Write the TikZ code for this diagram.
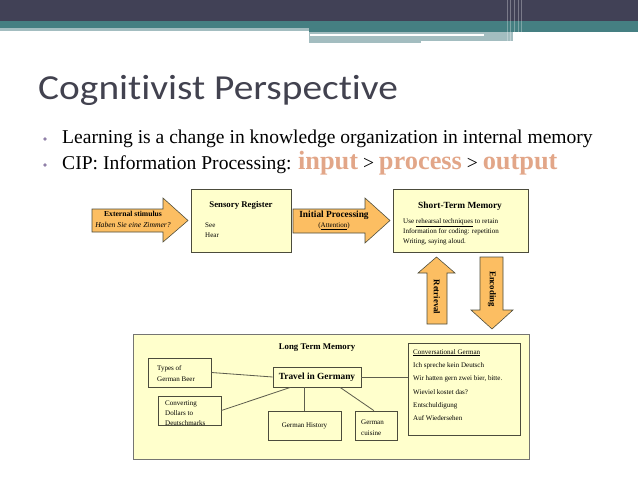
\documentclass[tikz,border=0pt]{standalone}
\usepackage{fontspec}
\setmainfont{Liberation Serif}
\newfontfamily\titlefont[FakeStretch=1.12, Ligatures=NoCommon]{Carlito}
\usetikzlibrary{fit,calc}

\definecolor{hdrdark}{HTML}{414156}
\definecolor{hdrteal}{HTML}{457F82}
\definecolor{hdrlight}{HTML}{A3BDC0}
\definecolor{titlegray}{HTML}{42424F}
\definecolor{bulletpurple}{HTML}{9080A8}
\definecolor{salmon}{HTML}{E2A688}
\definecolor{boxfill}{HTML}{FFFFCC}
\definecolor{boxline}{HTML}{4C4C3C}
\definecolor{arrowfill}{HTML}{FCBE62}
\definecolor{linkgray}{HTML}{5E5E4E}

\begin{document}
\begin{tikzpicture}[x=0.03cm, y=-0.03cm,
  box/.style={draw=boxline, fill=boxfill, line width=0.7pt, inner sep=0pt},
  blockarrow/.style={draw=boxline, fill=arrowfill, line width=0.5pt},
  hd/.style={font=\fontsize{7.5}{9}\selectfont\bfseries, inner sep=0pt},
  txt/.style={font=\fontsize{6}{7}\selectfont, inner sep=0pt, anchor=base west},
  link/.style={draw=linkgray, line width=0.7pt}]
  \useasboundingbox (0,0) rectangle (638,479);

  % Header bands
  \fill[hdrdark] (0,0) rectangle (638,21);
  \fill[hdrteal] (0,21) rectangle (309,28.5);
  \fill[hdrteal] (309,21) rectangle (638,32);
  \fill[hdrlight] (0,28.5) rectangle (309,31);
  \fill[hdrlight] (309,32) rectangle (421,43);
  \fill[hdrlight] (421,32) rectangle (513,41);
  \fill[white] (310,34) rectangle (484,36);
  \foreach \x in {507,510,514,518,521}
    \fill[white, opacity=0.3] (\x,0) rectangle (\x+1.2,43);

  % Title and bullets
  \node[anchor=base west, inner sep=0pt, text=titlegray,
        font=\titlefont\fontsize{30}{31}\selectfont] (title) at (38,100) {Cognitivist Perspective};
  \fill[bulletpurple] (45,139) circle (1.8);
  \fill[bulletpurple] (45,165) circle (1.8);
  \node[anchor=base west, inner sep=0pt, font=\fontsize{16.7}{18}\selectfont] (line1) at (62,143)
    {Learning is a change in knowledge organization in internal memory};
  \node[anchor=base west, inner sep=0pt, font=\fontsize{16.7}{18}\selectfont] (line2) at (62,169)
    {CIP: Information Processing: \textcolor{salmon}{\fontsize{22.5}{24}\selectfont\bfseries input}
     > \textcolor{salmon}{\fontsize{22.5}{24}\selectfont\bfseries process}
     > \textcolor{salmon}{\fontsize{22.5}{24}\selectfont\bfseries output}};

  % Block arrows (right, right, up, down)
  \draw[blockarrow] (92,209) -- (163,209) -- (163,198) -- (188,220.5) -- (163,242) -- (163,232) -- (92,232) -- cycle;
  \draw[blockarrow] (293,209) -- (365,209) -- (365,198) -- (390,220.5) -- (365,243) -- (365,233) -- (293,233) -- cycle;
  \draw[blockarrow] (427,324) -- (427,273) -- (418,273) -- (436.5,257) -- (455,273) -- (447,273) -- (447,324) -- cycle;
  \draw[blockarrow] (480,257) -- (503,257) -- (503,310) -- (513,310) -- (492,329) -- (471,310) -- (480,310) -- cycle;

  \node[hd, font=\fontsize{6.5}{8}\selectfont\bfseries] (ext) at (133,214) {External stimulus};
  \node[inner sep=0pt, font=\fontsize{6.5}{8}\selectfont\itshape] (extsub) at (133,225) {Haben Sie eine Zimmer?};
  \node[hd, font=\fontsize{8}{9}\selectfont\bfseries] (init) at (334,215) {Initial Processing};
  \node[inner sep=0pt, font=\fontsize{6}{7}\selectfont] (attn) at (334,226) {(\underline{Attention})};
  \node[hd, rotate=-90] (retr) at (437,297) {Retrieval};
  \node[hd, rotate=-90] (enc) at (492,289) {Encoding};

  % Sensory register
  \node[box, fit={(191,189) (291,252)}] (sensory) {};
  \node[hd] (senshd) at (241,205) {Sensory Register};
  \node[txt] (see) at (205,227) {See};
  \node[txt] (hear) at (205,237) {Hear};

  % Short-term memory
  \node[box, fit={(393,189) (528,252)}] (stm) {};
  \node[hd, font=\fontsize{8}{9}\selectfont\bfseries] (stmhd) at (460,206) {Short-Term Memory};
  \node[txt] (stm1) at (403,223) {Use \underline{rehearsal techniques} to retain};
  \node[txt] (stm2) at (403,233) {Information for coding: repetition};
  \node[txt] (stm3) at (403,243) {Writing, saying aloud.};

  % Long term memory
  \node[box, draw=gray!80!boxline, fit={(133,334) (529,459)}] (ltm) {};
  \node[hd] (ltmhd) at (317,348) {Long Term Memory};

  \node[box, fit={(148,358) (211,387)}] (beer) {};
  \node[txt] at (157,370) {Types of};
  \node[txt] at (157,381) {German Beer};

  \node[box, fit={(273,367) (361,387)}] (travel) {};
  \node[hd, font=\fontsize{8}{9}\selectfont\bfseries] at (travel) {Travel in Germany};

  \node[box, fit={(158,396) (221,425)}] (convert) {};
  \node[txt] at (165,405) {Converting};
  \node[txt] at (165,415) {Dollars to};
  \node[txt] at (165,425) {Deutschmarks};

  \node[box, fit={(268,411) (341,440)}] (history) {};
  \node[txt, anchor=center] at (history) {German History};

  \node[box, fit={(355,411) (397,440)}] (cuisine) {};
  \node[txt] at (361,424) {German};
  \node[txt] at (361,435) {cuisine};

  \node[box, fit={(408,343) (520,435)}] (conv) {};
  \node[txt] at (413,354) {\underline{Conversational German}};
  \node[txt] at (413,367) {Ich spreche kein Deutsch};
  \node[txt] at (413,380) {Wir hatten gern zwei bier, bitte.};
  \node[txt] at (413,394) {Wieviel kostet das?};
  \node[txt] at (413,407) {Entschuldigung};
  \node[txt] at (413,420) {Auf Wiedersehen};

  % Links
  \draw[link] (beer.east) -- (travel.west);
  \draw[link] (travel.east) -- (conv.west |- travel.east);
  \draw[link] ($(travel.south west)!0.2!(travel.south east)$) -- (convert.east);
  \draw[link] (travel.south -| history.north) -- (history.north);
  \draw[link] ($(travel.south west)!0.76!(travel.south east)$) -- ($(cuisine.north west)!0.45!(cuisine.north east)$);
\end{tikzpicture}
\end{document}
